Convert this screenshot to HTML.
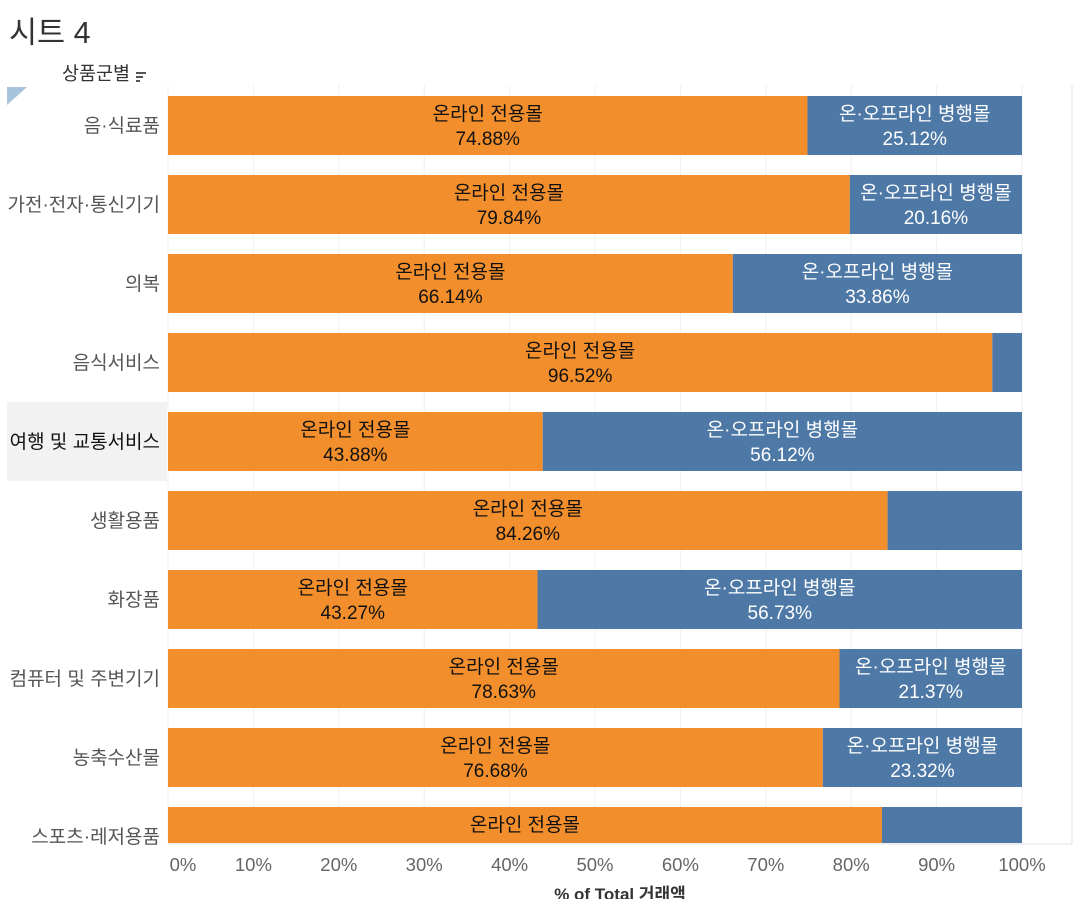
<!DOCTYPE html>
<html><head><meta charset="utf-8">
<style>
html,body{margin:0;padding:0;background:#fff;overflow:hidden}
svg{display:block;font-family:"Liberation Sans","Noto Sans CJK KR",sans-serif}
</style></head>
<body>
<svg id="chart" width="1075" height="899" viewBox="0 0 1075 899">
  <text x="9" y="43" font-size="30.5" fill="#333">시트 4</text>
  <text x="62" y="80" font-size="18.5" fill="#333">상품군별</text>
  <g fill="#555">
    <rect x="136" y="72" width="10" height="2"/><rect x="136" y="76" width="7" height="2"/><rect x="136" y="80" width="4" height="2"/>
  </g>
  <polygon points="7,87 27,87 7,105" fill="#a8c4dc"/>
  <rect x="7" y="402" width="160" height="79" fill="#f2f2f2"/>
  <g id="grid"></g>
  <g id="bars"></g>
  <g id="labels"></g>
  <g id="ticks"></g>
  <line x1="1072" y1="85" x2="1072" y2="845" stroke="#e6e6e6"/>
  <text x="620" y="900" font-size="17" fill="#333" text-anchor="middle" font-weight="bold">% of Total 거래액</text>
</svg>
<script>
const categories=["음·식료품","가전·전자·통신기기","의복","음식서비스","여행 및 교통서비스","생활용품","화장품","컴퓨터 및 주변기기","농축수산물","스포츠·레저용품"];
const onlineVals=[74.88,79.84,66.14,96.52,43.88,84.26,43.27,78.63,76.68,83.60];
const tickVals=[0,10,20,30,40,50,60,70,80,90,100];
const seriesNames=["온라인 전용몰","온·오프라인 병행몰"];

const NS="http://www.w3.org/2000/svg";
const X0=168,X1=1022,Y0=96,PITCH=79,BH=59,CLIP=843;
const xs=v=>X0+(X1-X0)*v/100;
const ys=i=>Y0+i*PITCH;
function mk(tag,attrs,parent,txt){const e=document.createElementNS(NS,tag);for(const k in attrs)e.setAttribute(k,attrs[k]);if(txt!==undefined)e.textContent=txt;parent.appendChild(e);return e;}
const grid=document.getElementById('grid'),bars=document.getElementById('bars'),labels=document.getElementById('labels'),ticks=document.getElementById('ticks');
tickVals.forEach(t=>{
  const l=mk('line',{x1:xs(t),x2:xs(t),y1:85,y2:CLIP,stroke:'#f0f0f0'},grid);
  
  
  const cx=t===0?xs(t)+15:xs(t);
  const tx=mk('text',{x:cx,y:871,'font-size':18.5,fill:'#666','text-anchor':'middle'},ticks,t+'%');
  
  
});
mk('line',{x1:X0,x2:1072,y1:CLIP+1,y2:CLIP+1,stroke:'#e0e0e0'},grid);
categories.forEach((c,i)=>{
  const y=ys(i),v=onlineVals[i],h=Math.min(BH,CLIP-y);
  const r1=mk('rect',{x:X0,y:y,width:xs(v)-X0,height:h,fill:'#F28E2B'},bars);
  
  
  const r2=mk('rect',{x:xs(v),y:y,width:X1-xs(v),height:h,fill:'#4E79A7'},bars);
  
  
  const cl=mk('text',{x:160,y:y+36,'font-size':19,fill:i===4?'#111':'#555','text-anchor':'end'},labels,c);
  
  
  const mx=(X0+xs(v))/2;
  const a=mk('text',{x:mx,y:y+24,'font-size':19,fill:'#111','text-anchor':'middle'},labels,seriesNames[0]);
  
  
  if(y+49<CLIP){
    const b=mk('text',{x:mx,y:y+49,'font-size':19,fill:'#111','text-anchor':'middle'},labels,v.toFixed(2)+'%');
    
    
  }
  const rest=100-v;
  if(rest>19){
    const m2=(xs(v)+X1)/2;
    const c1=mk('text',{x:m2,y:y+24,'font-size':19,fill:'#fff','text-anchor':'middle'},labels,seriesNames[1]);
    
    
    const c2=mk('text',{x:m2,y:y+49,'font-size':19,fill:'#fff','text-anchor':'middle'},labels,rest.toFixed(2)+'%');
    
    
  }
});
</script>
</body></html>
